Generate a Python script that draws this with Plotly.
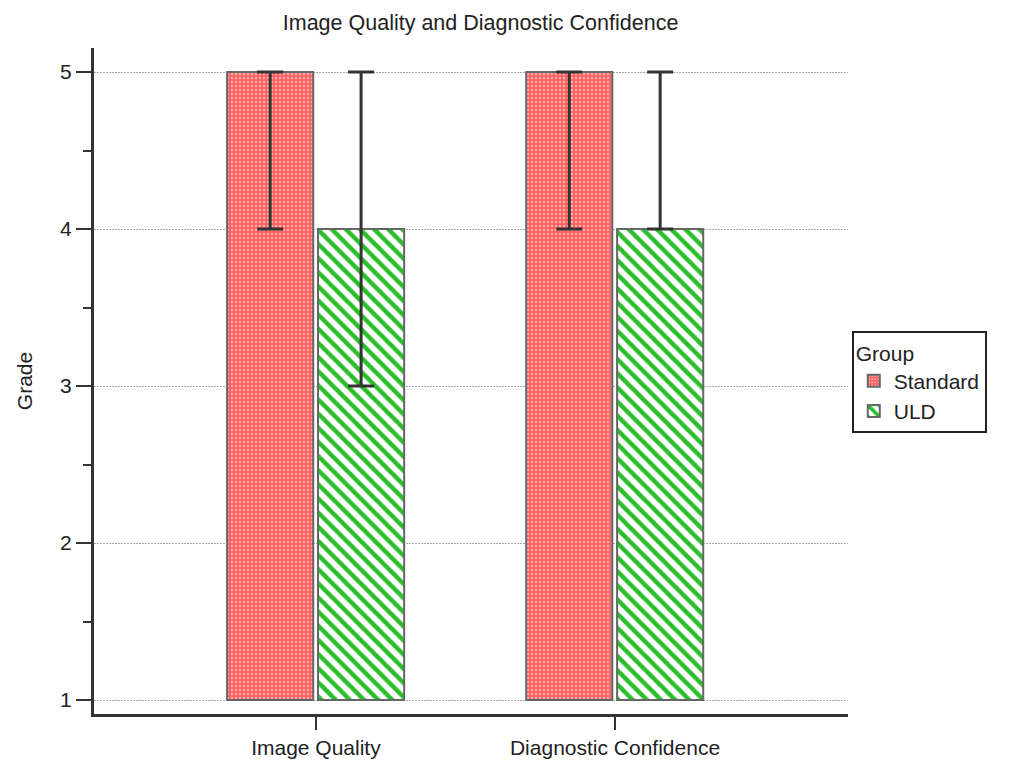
import plotly.graph_objects as go

categories = ["Image Quality", "Diagnostic Confidence"]
groups = ["Standard", "ULD"]
standard_top = [5, 5]
standard_err_minus = [1, 1]
standard_err_plus = [0, 0]
uld_top = [4, 4]
uld_err_minus = [1, 0]
uld_err_plus = [1, 1]
base_value = 1
y_ticks = [1, 2, 3, 4, 5]
y_minor_ticks = [1.5, 2.5, 3.5, 4.5]

xpos = list(range(len(categories)))
FONT = "Liberation Sans, Arial, sans-serif"
FS = 21

fig = go.Figure()
fig.add_trace(go.Bar(
    name=groups[0], x=xpos, y=[v - base_value for v in standard_top], base=base_value,
    width=0.288, offset=-0.297,
    marker=dict(color="#ff6060", line=dict(color="#666666", width=2),
                pattern=dict(shape=".", fgcolor="#ffffff", bgcolor="#ff6060", size=4, solidity=0.3)),
    error_y=dict(type="data", symmetric=False, array=standard_err_plus, arrayminus=standard_err_minus,
                 color="#333333", thickness=3, width=13),
))
fig.add_trace(go.Bar(
    name=groups[1], x=xpos, y=[v - base_value for v in uld_top], base=base_value,
    width=0.288, offset=0.007,
    marker=dict(color="#ffffff", line=dict(color="#666666", width=2),
                pattern=dict(shape="\\", fgcolor="#2abf2a", bgcolor="#ffffff", fgopacity=1,
                             size=10, solidity=0.45)),
    error_y=dict(type="data", symmetric=False, array=uld_err_plus, arrayminus=uld_err_minus,
                 color="#333333", thickness=3, width=13),
))

fig.update_layout(
    width=1013, height=760,
    barmode="overlay",
    paper_bgcolor="white", plot_bgcolor="white",
    margin=dict(l=86, r=173, t=40, b=54, autoexpand=False),
    font=dict(family=FONT, color="#222222", size=FS),
    title=dict(text="Image Quality and Diagnostic Confidence", x=0.4665, xanchor="center",
               y=0.9816, yanchor="middle", font=dict(size=21.5, family=FONT, color="#222222")),
    legend=dict(title=dict(text="Group", font=dict(size=FS)), font=dict(size=FS),
                x=1.005, xanchor="left", y=0.498, yanchor="middle",
                bordercolor="#222222", borderwidth=2, bgcolor="white",
                itemsizing="constant", tracegroupgap=0, entrywidth=105),
    showlegend=True,
)
fig.update_xaxes(
    range=[-0.742, 1.779], tickvals=xpos, ticktext=categories,
    showline=True, linecolor="#333333", linewidth=3,
    ticks="outside", ticklen=13, tickwidth=2, tickcolor="#333333",
    showgrid=False, zeroline=False, tickfont=dict(size=FS), automargin=False,
)
fig.update_yaxes(
    range=[0.911, 5.153], tickvals=y_ticks,
    showline=True, linecolor="#333333", linewidth=3,
    ticks="outside", ticklen=15, tickwidth=2, tickcolor="#333333",
    minor=dict(tickvals=y_minor_ticks, ticks="outside", ticklen=8, tickwidth=2, tickcolor="#333333", showgrid=False),
    showgrid=True, gridcolor="#aaaaaa", griddash="2px,1px", gridwidth=1,
    zeroline=False, tickfont=dict(size=FS), automargin=False,
    title=dict(text="Grade", font=dict(size=FS), standoff=22),
)

fig.write_html("out.html")
